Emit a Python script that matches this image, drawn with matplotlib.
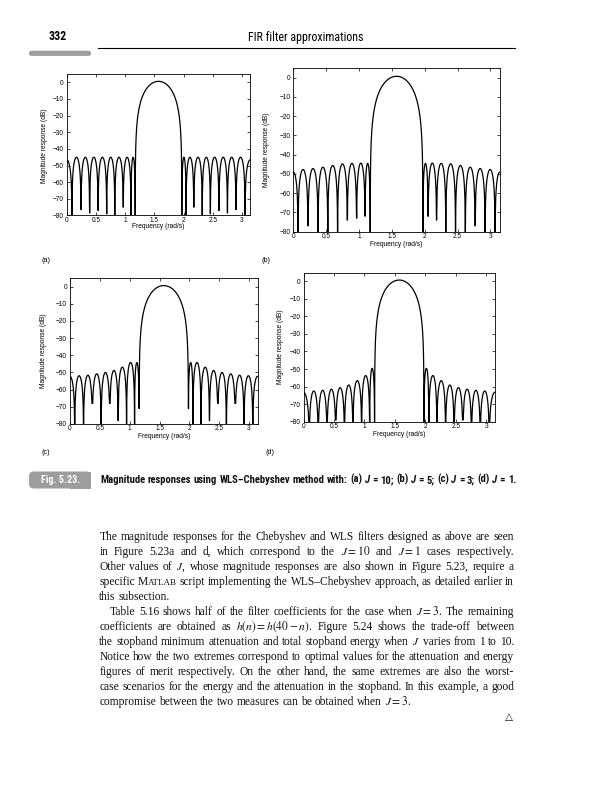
import numpy as np
import matplotlib
matplotlib.use("Agg")
import matplotlib.pyplot as plt
from matplotlib import font_manager
from matplotlib.patches import FancyBboxPatch, Rectangle

# ---------------- chart data ----------------
panel_tags = ["(a)", "(b)", "(c)", "(d)"]
x_ticks = [0, 0.5, 1, 1.5, 2, 2.5, 3]
x_tick_labels = ["0", "0.5", "1", "1.5", "2", "2.5", "3"]
y_ticks = [0, -10, -20, -30, -40, -50, -60, -70, -80]
y_tick_labels = ["0", "\u221210", "\u221220", "\u221230", "\u221240",
                 "\u221250", "\u221260", "\u221270", "\u221280"]
x_label = "Frequency (rad/s)"
y_label = "Magnitude response (dB)"
x_range = [0, np.pi]
y_range = [-80, 5]

# null frequencies (rad/s), lobe peak levels (dB), depth reached at each null (dB)
# (a) J = 10
a_nulls = [0.090, 0.245, 0.392, 0.537, 0.684, 0.823, 0.967, 1.100, 1.172,
           1.970, 2.042, 2.175, 2.319, 2.458, 2.605, 2.750, 2.897, 3.052]
a_peaks = [-46.5, -45.0, -45.0, -45.0, -45.0, -45.0, -45.0, -45.0, -45.0, 0.6,
           -45.0, -45.0, -45.0, -45.0, -45.0, -45.0, -45.0, -45.0, -46.5]
a_depths = [-90, -76.5, -78.5, -77, -79, -90, -75, -90, -90,
            -90, -90, -75, -90, -79, -77, -78.5, -76.5, -90]
# (b) J = 5
b_nulls = [0.072, 0.224, 0.376, 0.525, 0.674, 0.822, 0.963, 1.092, 1.170,
           1.972, 2.050, 2.179, 2.320, 2.468, 2.617, 2.766, 2.918, 3.070]
b_peaks = [-49.0, -47.7, -47.2, -46.5, -45.6, -44.8, -44.5, -44.4, -44.5, 0.7,
           -44.5, -44.4, -44.5, -44.8, -45.6, -46.5, -47.2, -47.7, -49.0]
b_depths = [-90, -77, -90, -90, -90, -74, -73, -72, -90,
            -90, -72, -74, -90, -90, -90, -77, -90, -90]
# (c) J = 3
c_nulls = [0.079, 0.227, 0.374, 0.522, 0.666, 0.806, 0.948, 1.082, 1.158,
           1.984, 2.060, 2.194, 2.336, 2.476, 2.620, 2.768, 2.915, 3.063]
c_peaks = [-52.3, -51.9, -51.6, -50.8, -50.0, -48.8, -46.9, -44.2, -44.2, 0.6,
           -44.2, -44.2, -46.9, -48.8, -50.0, -50.8, -51.6, -51.9, -52.3]
c_depths = [-90, -90, -68, -90, -68, -78, -90, -90, -71,
            -71, -90, -90, -78, -68, -90, -68, -90, -90]
# (d) J = 1
d_nulls = [0.095, 0.242, 0.386, 0.529, 0.672, 0.811, 0.954, 1.086, 1.166,
           1.976, 2.056, 2.188, 2.331, 2.470, 2.613, 2.756, 2.900, 3.047]
d_peaks = [-63.2, -62.5, -62.1, -61.5, -60.6, -59.1, -56.6, -53.7, -49.6, 0.7,
           -49.6, -53.7, -56.6, -59.1, -60.6, -61.5, -62.1, -62.5, -63.2]
d_depths = [-90, -90, -90, -79, -90, -90, -90, -90, -90,
            -90, -90, -90, -90, -90, -79, -90, -90, -90]

header_page = "332"
header_title = "FIR filter approximations"
fig_tag = "Fig. 5.23."
caption = ("Magnitude responses using WLS\u2013Chebyshev method with: (a) J = 10; "
           "(b) J = 5; (c) J = 3; (d) J = 1.")
body_lines = [
    "The magnitude responses for the Chebyshev and WLS filters designed as above are seen",
    "in Figure 5.23a and d, which correspond to the $J=10$ and $J=1$ cases respectively.",
    "Other values of $J$, whose magnitude responses are also shown in Figure 5.23, require a",
    "specific MATLAB script implementing the WLS\u2013Chebyshev approach, as detailed earlier in",
    "this subsection.",
    "Table 5.16 shows half of the filter coefficients for the case when $J=3$. The remaining",
    "coefficients are obtained as $h(n)=h(40-n)$. Figure 5.24 shows the trade-off between",
    "the stopband minimum attenuation and total stopband energy when $J$ varies from 1 to 10.",
    "Notice how the two extremes correspond to optimal values for the attenuation and energy",
    "figures of merit respectively. On the other hand, the same extremes are also the worst-",
    "case scenarios for the energy and the attenuation in the stopband. In this example, a good",
    "compromise between the two measures can be obtained when $J=3$.",
]
body_justify = [True, True, True, True, False, True, True, True, True, True, True, False]
body_indent = [0, 0, 0, 0, 0, 1, 0, 0, 0, 0, 0, 0]
end_mark = "\u25b3"

panels = [(a_nulls, a_peaks, a_depths), (b_nulls, b_peaks, b_depths),
          (c_nulls, c_peaks, c_depths), (d_nulls, d_peaks, d_depths)]

# ---------------- layout ----------------
W, H = 608, 800
fig = plt.figure(figsize=(W / 100, H / 100), dpi=100)
plt.rcParams['font.family'] = ['Liberation Sans', 'DejaVu Sans']


def pick_condensed():
    entries = font_manager.fontManager.ttflist
    for want in ['Liberation Sans Narrow', 'Roboto Condensed', 'Open Sans Condensed',
                 'Noto Sans Condensed']:
        for f in entries:
            if f.name == want:
                return want, 'normal'
    for f in entries:
        if str(f.stretch) in ('condensed', 'semi-condensed', 'extra-condensed') \
                and 'Sans' in f.name:
            return f.name, str(f.stretch)
    for f in entries:
        if 'Condensed' in f.name or 'Narrow' in f.name:
            return f.name, 'normal'
    for want in ['Lato', 'Roboto']:
        for f in entries:
            if f.name == want:
                return want, 'normal'
    return 'DejaVu Sans', 'normal'


cond_name, cond_stretch = pick_condensed()
cond = [cond_name, 'DejaVu Sans']
serif = ['Liberation Serif', 'DejaVu Serif']

bg = fig.add_axes([0, 0, 1, 1])
bg.set_xlim(0, W)
bg.set_ylim(H, 0)
bg.axis('off')
renderer = fig.canvas.get_renderer()


def response(w, nulls, peaks, depths, main_shape=1.38):
    bounds = np.concatenate([[0.0], nulls, [np.pi]])
    y = np.full_like(w, np.nan)
    n = len(bounds) - 1
    mid = n // 2
    for i in range(n):
        a, b = bounds[i], bounds[i + 1]
        m = (w >= a) & (w <= b)
        ww = w[m]
        if i == 0:
            lo, hi = -b, b
        elif i == n - 1:
            lo, hi = a, 2 * np.pi - a
        else:
            lo, hi = a, b
        c, h = (lo + hi) / 2, (hi - lo) / 2
        if i == mid:
            v = peaks[i] + 20 * main_shape * np.log10(
                np.clip(np.cos(np.pi / 2 * (ww - c) / h), 1e-12, None))
        else:
            v = peaks[i] + 20 * np.log10(
                np.clip(np.abs(np.sin(np.pi * (ww - lo) / (hi - lo))), 1e-12, None))
        dl = depths[i - 1] if i > 0 else -300
        dr = depths[i] if i < n - 1 else -300
        v = np.where(ww < c, np.maximum(v, dl), np.maximum(v, dr))
        y[m] = v
    return y


panel_boxes = [(66.7, 74.0, 250.3, 215.5), (293.3, 68.0, 499.8, 231.7),
               (70.0, 278.0, 257.5, 424.0), (303.5, 272.5, 495.0, 421.7)]
xlabel_pos = [(158.5, 227.0), (396.5, 245.0), (164.0, 436.0), (399.0, 434.5)]
ylabel_pos = [(45.0, 146.0), (266.0, 150.0), (43.3, 351.0), (280.7, 347.0)]
tag_pos = [(46.0, 260.5), (266.5, 260.5), (46.0, 452.0), (270.0, 453.0)]

for (nulls, peaks, depths), (l, t, r, b), xl, yl, tp, tag in zip(
        panels, panel_boxes, xlabel_pos, ylabel_pos, tag_pos, panel_tags):
    ax = fig.add_axes([l / W, 1 - b / H, (r - l) / W, (b - t) / H])
    w = np.unique(np.concatenate([np.linspace(0, np.pi, 8001), nulls]))
    ax.plot(w, response(w, nulls, peaks, depths), color='k', lw=0.9)
    ax.set_xlim(*x_range)
    ax.set_ylim(*y_range)
    ax.set_xticks(x_ticks)
    ax.set_xticklabels(x_tick_labels)
    ax.set_yticks(y_ticks)
    ax.set_yticklabels(y_tick_labels)
    ax.tick_params(direction='in', length=2.5, width=0.5, top=True, right=True,
                   labelsize=4.7, colors='k')
    ax.tick_params(axis='x', pad=1.0)
    ax.tick_params(axis='y', pad=2.2)
    for sp in ax.spines.values():
        sp.set_linewidth(0.6)
    bg.text(xl[0], xl[1], x_label, fontsize=4.8, ha='center', va='center')
    bg.text(yl[0], yl[1], y_label, fontsize=4.8, ha='center', va='center', rotation=90)
    bg.text(tp[0], tp[1], tag, fontsize=5.2, ha='center', va='center')


def measure(s, fs, fam, style='normal', weight='normal', stretch='normal'):
    tt = bg.text(0, 0, s, fontsize=fs, family=fam, fontstyle=style,
                 fontweight=weight, fontstretch=stretch, math_fontfamily='stix')
    ww = tt.get_window_extent(renderer).width
    tt.remove()
    return ww


# ---- header ----
title_fs = 7.7 * 116.0 / measure(header_title, 7.7, cond, stretch=cond_stretch)
title_fs = min(title_fs, 8.6)
bg.text(306, 37.0, header_title, fontsize=title_fs, family=cond, fontstretch=cond_stretch,
        ha='center', va='center')
bg.text(49, 37.0, header_page, fontsize=title_fs, family=cond, fontstretch=cond_stretch,
        weight='bold', ha='left', va='center')
bg.plot([98, 515], [48.3, 48.3], color='k', lw=0.8)
bg.add_patch(FancyBboxPatch((29, 50.7), 62, 5.2, boxstyle="round,pad=0,rounding_size=2.5",
                            fc='#9d9d9d', ec='none'))

# ---- caption ----
bg.add_patch(FancyBboxPatch((29, 471.5), 62, 17.0, boxstyle="round,pad=0,rounding_size=5",
                            fc='#9d9d9d', ec='none'))
bg.add_patch(Rectangle((70, 471.5), 21, 17.0, fc='#9d9d9d', ec='none'))
bg.text(61, 480.0, fig_tag, fontsize=7.3, family=cond, fontstretch=cond_stretch,
        weight='bold', color='white', ha='center', va='center')

cap_words = caption.split(' ')
cap_style = ['italic' if wd == 'J' else 'normal' for wd in cap_words]


def seq_width(words, styles, fs):
    sp = (measure('n n', fs, cond, weight='bold', stretch=cond_stretch)
          - measure('nn', fs, cond, weight='bold', stretch=cond_stretch))
    ws = [measure(wd, fs, cond, st, 'bold', cond_stretch) for wd, st in zip(words, styles)]
    return ws, sp


ws0, sp0 = seq_width(cap_words, cap_style, 8.0)
cap_fs = 8.0 * 416.0 / (sum(ws0) + sp0 * (len(ws0) - 1))
ws, sp = seq_width(cap_words, cap_style, cap_fs)
x = 100.0
for wd, st, wdw in zip(cap_words, cap_style, ws):
    bg.text(x, 483.0, wd, fontsize=cap_fs, family=cond, fontstretch=cond_stretch,
            weight='bold', fontstyle=st, ha='left', va='baseline', color='#111111')
    x += wdw + sp

# ---- body text (justified) ----
X0, X1 = 99.3, 514.0


def pieces(word, fs):
    if word.startswith('MATLAB'):
        ps = [('M', fs), ('ATLAB', fs * 0.78)]
        if len(word) > 6:
            ps.append((word[6:], fs))
        return ps
    return [(word, fs)]


def line_widths(line, fs):
    words = line.split(' ')
    pcs = [pieces(wd, fs) for wd in words]
    wds = [[measure(s, f, serif) for s, f in p] for p in pcs]
    return words, pcs, wds


fs0 = 8.0
ratios = []
sp_body0 = measure('n n', fs0, serif) - measure('nn', fs0, serif)
for line, jus, ind in zip(body_lines, body_justify, body_indent):
    if not jus:
        continue
    _, _, wds = line_widths(line, fs0)
    nat = sum(sum(v) for v in wds) + sp_body0 * (len(wds) - 1)
    ratios.append(nat / (X1 - X0 - ind * 10.7))
body_fs = fs0 / np.median(ratios) * 0.985
sp_body = measure('n n', body_fs, serif) - measure('nn', body_fs, serif)

for i, (line, jus, ind) in enumerate(zip(body_lines, body_justify, body_indent)):
    y = 540.0 + 15.0 * i
    x0 = X0 + ind * 10.7
    words, pcs, wds = line_widths(line, body_fs)
    tot = sum(sum(v) for v in wds)
    gap = (X1 - x0 - tot) / (len(words) - 1) if jus else sp_body
    x = x0
    for p, wv in zip(pcs, wds):
        for (s, f), pw in zip(p, wv):
            bg.text(x, y, s, fontsize=f, family=serif, math_fontfamily='stix',
                    ha='left', va='baseline', color='#111111')
            x += pw
        x += gap

bg.text(509.3, 717.0, end_mark, fontsize=7.5, family=['DejaVu Sans'], ha='center',
        va='center', color='#111111')

fig.savefig('out.png', dpi=100, facecolor='white')
